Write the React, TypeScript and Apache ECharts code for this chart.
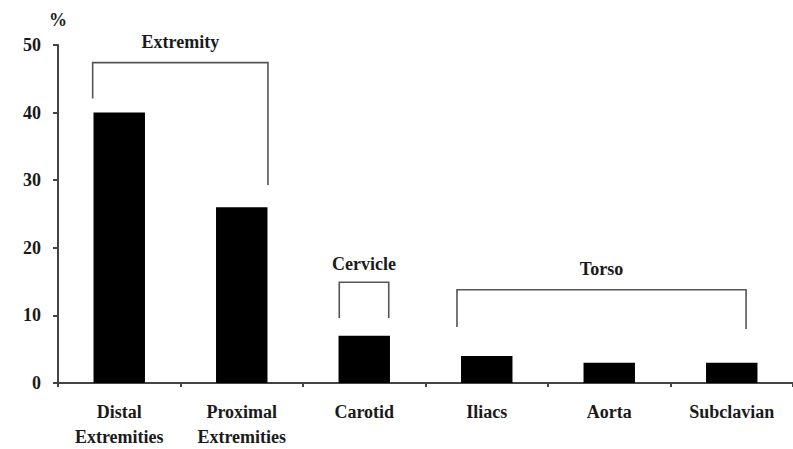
import React, { useEffect, useRef } from "react";
import * as echarts from "echarts";

const categories = ["Distal\nExtremities", "Proximal\nExtremities", "Carotid", "Iliacs", "Aorta", "Subclavian"];
const percentValues = [40, 26, 7, 4, 3, 3];
const yTicks = [0, 10, 20, 30, 40, 50];

const bracketNames = ["Extremity", "Cervicle", "Torso"];
const bracketStart = [-0.217, 1.796, 2.757];
const bracketEnd = [1.214, 2.2, 5.117];
const bracketTop = [47.4, 14.9, 13.8];
const bracketLeftEnd = [42.1, 9.6, 8.3];
const bracketRightEnd = [29.3, 9.6, 8.0];
const bracketLabelY = [50.4, 17.6, 16.8];

const FONT = "Liberation Serif";
const FONT_SIZE = 18;
const TEXT_COLOR = "#1a1a1a";

export default function App() {
  const ref = useRef<HTMLDivElement>(null);
  useEffect(() => {
    if (!ref.current) return;
    document.body.style.margin = "0";
    const chart = echarts.init(ref.current, undefined, { renderer: "svg" });
    chart.setOption({
      animation: false,
      backgroundColor: "#ffffff",
      grid: { left: 58, right: -7, top: 45, bottom: 61, containLabel: false },
      xAxis: {
        type: "category",
        data: categories,
        axisLine: { lineStyle: { color: "#444", width: 2 } },
        axisTick: { show: true, length: 4, lineStyle: { color: "#444", width: 2 } },
        axisLabel: {
          margin: 16,
          fontFamily: FONT,
          fontWeight: "bold",
          fontSize: FONT_SIZE,
          lineHeight: 25,
          color: TEXT_COLOR,
          interval: 0,
        },
      },
      yAxis: {
        type: "value",
        min: yTicks[0],
        max: yTicks[yTicks.length - 1],
        interval: 10,
        name: "%",
        nameLocation: "end",
        nameGap: 16,
        nameTextStyle: { fontFamily: FONT, fontWeight: "bold", fontSize: FONT_SIZE, color: TEXT_COLOR, align: "center" },
        splitLine: { show: false },
        axisLine: { show: true, lineStyle: { color: "#444", width: 2 } },
        axisTick: { show: true, length: 5, lineStyle: { color: "#444", width: 2 } },
        axisLabel: {
          margin: 17,
          fontFamily: FONT,
          fontWeight: "bold",
          fontSize: FONT_SIZE,
          color: TEXT_COLOR,
        },
      },
      series: [
        {
          type: "bar",
          data: percentValues,
          barWidth: "42%",
          itemStyle: { color: "#000" },
        },
        {
          type: "custom",
          data: bracketNames.map((_, i) => [bracketStart[i], bracketTop[i]]),
          renderItem: (params: any, api: any) => {
            const i = params.dataIndex;
            const band = api.size([1, 0])[0];
            const x0 = api.coord([0, 0])[0];
            const xl = x0 + bracketStart[i] * band;
            const xr = x0 + bracketEnd[i] * band;
            const yTop = api.coord([0, bracketTop[i]])[1];
            const yL = api.coord([0, bracketLeftEnd[i]])[1];
            const yR = api.coord([0, bracketRightEnd[i]])[1];
            const yLab = api.coord([0, bracketLabelY[i]])[1];
            return {
              type: "group",
              children: [
                {
                  type: "polyline",
                  shape: { points: [[xl, yL], [xl, yTop], [xr, yTop], [xr, yR]] },
                  style: { stroke: "#555", lineWidth: 1.6, fill: null },
                },
                {
                  type: "text",
                  x: (xl + xr) / 2,
                  y: yLab,
                  style: {
                    text: bracketNames[i],
                    align: "center",
                    verticalAlign: "middle",
                    fontFamily: FONT,
                    fontWeight: "bold",
                    fontSize: FONT_SIZE,
                    fill: TEXT_COLOR,
                  },
                },
              ],
            };
          },
        },
      ],
    });
    return () => chart.dispose();
  }, []);
  return (
    <div
      ref={ref}
      style={{ position: "fixed", left: 0, top: 0, width: 793, height: 449, background: "#fff" }}
    />
  );
}
